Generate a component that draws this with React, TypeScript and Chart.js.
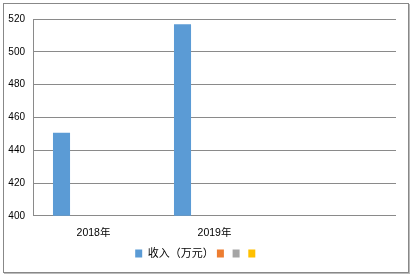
import React, { useEffect, useRef } from "react";
import { Chart, registerables } from "chart.js";

Chart.register(...registerables);

const categories = ["2018年", "2019年", ""];
const seriesNames = ["收入（万元）", "", "", ""];
const incomeValues = [450.6, 516.8, null];
const emptyValues = [null, null, null];
const seriesColors = ["#5B9BD5", "#ED7D31", "#A5A5A5", "#FFC000"];
const yMin = 400;
const yMax = 520;
const yStep = 20;

const FONT = '"Liberation Sans", "Noto Sans CJK SC", sans-serif';

export default function App() {
  const ref = useRef<HTMLCanvasElement | null>(null);

  useEffect(() => {
    document.body.style.margin = "0";
    const ctx = ref.current;
    if (!ctx) return;
    const datasets = seriesNames.map((name, i) => ({
      label: name,
      data: i === 0 ? incomeValues : emptyValues,
      backgroundColor: seriesColors[i],
      borderWidth: 0,
      categoryPercentage: 0.705,
      barPercentage: 0.8,
    }));
    const chart = new Chart(ctx, {
      type: "bar",
      data: { labels: categories, datasets },
      options: {
        animation: false,
        responsive: false,
        maintainAspectRatio: false,
        layout: { padding: { left: 0, right: 18, top: 19, bottom: 9 } },
        plugins: {
          tooltip: { enabled: false },
          legend: {
            position: "bottom",
            labels: {
              boxWidth: 7,
              boxHeight: 8,
              padding: 3.2,
              color: "#000",
              font: { family: FONT, size: 11 },
            },
          },
        },
        scales: {
          x: {
            grid: { display: false, drawTicks: false },
            border: { display: false },
            ticks: {
              color: "#000",
              font: { family: FONT, size: 10.5 },
              padding: 11,
              maxRotation: 0,
              autoSkip: false,
            },
            afterFit: (s: any) => {
              s.height = 29;
            },
          },
          y: {
            min: yMin,
            max: yMax,
            grid: { color: "#8a8a8a", lineWidth: 1, drawTicks: false },
            border: { display: true, color: "#8a8a8a", width: 1 },
            ticks: {
              stepSize: yStep,
              color: "#000",
              font: { family: FONT, size: 10 },
              padding: 8,
            },
            afterFit: (s: any) => {
              s.width = 33;
            },
          },
        },
      },
    });
    return () => chart.destroy();
  }, []);

  return (
    <div style={{ position: "relative", width: 414, height: 278, background: "#fff" }}>
      <div
        style={{
          position: "absolute",
          left: 3,
          top: 3,
          width: 406,
          height: 270,
          boxSizing: "border-box",
          border: "1px solid #888",
          boxShadow: "1px 1px 0 #bbb",
        }}
      />
      <canvas
        ref={ref}
        width={414}
        height={278}
        style={{ position: "absolute", left: 0, top: 0, width: 414, height: 278 }}
      />
    </div>
  );
}
